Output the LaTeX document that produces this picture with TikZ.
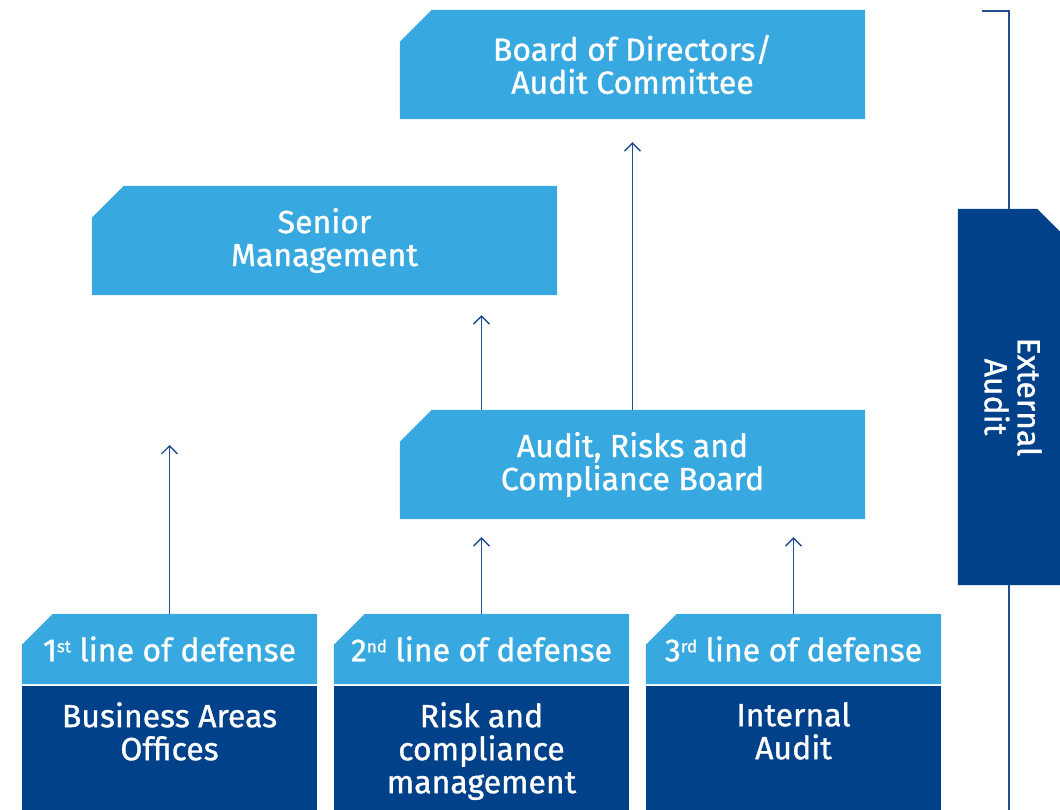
\documentclass[tikz,border=0pt]{standalone}
\usepackage{fontspec}
\setmainfont{Fira Sans}[FakeBold=1]
\usetikzlibrary{backgrounds,arrows.meta}
\definecolor{lightb}{HTML}{38A9E0}
\definecolor{darkb}{HTML}{00418A}
\definecolor{linec}{HTML}{1F4E8F}
\newcommand\chamfbox[3]{%
  \fill[#2] ([yshift=-#3]#1.north west) -- ([xshift=#3]#1.north west) -- (#1.north east) -- (#1.south east) -- (#1.south west) -- cycle;}
\newcommand\sups[1]{\raisebox{9pt}{\fontsize{17}{17}\selectfont #1}}
\tikzset{
  txt/.style={text=white, font=\fontsize{32}{33}\selectfont, align=center, inner sep=0pt},
  bigbox/.style={minimum width=465pt, minimum height=109pt, inner sep=0pt},
  linebox/.style={minimum width=295pt, minimum height=70pt, inner sep=0pt},
  darkbox/.style={minimum width=295pt, minimum height=130pt, inner sep=0pt, fill=darkb, anchor=north},
  arr/.style={draw=linec, line width=1.3pt, -{Straight Barb[length=8pt,width=16pt,line width=1.3pt]}},
}
\begin{document}
\begin{tikzpicture}[x=1pt,y=-1pt]
\useasboundingbox (0,0) rectangle (1060,810);
% boxes with text
\node[bigbox, txt] (board) at (632.5,64.5) {Board of Directors/\\Audit Committee};
\node[bigbox, txt] (senior) at (324.5,240.5) {Senior\\Management};
\node[bigbox, txt] (arc) at (632.5,464.5) {Audit, Risks and\\Compliance Board};
\node[linebox, txt] (l1) at (169.5,649) {1\sups{st} line of defense};
\node[linebox, txt] (l2) at (481.5,649) {2\sups{nd} line of defense};
\node[linebox, txt] (l3) at (793.5,649) {3\sups{rd} line of defense};
\node[darkbox] (d1) at (169.5,686) {};
\node[darkbox] (d2) at (481.5,686) {};
\node[darkbox] (d3) at (793.5,686) {};
\node[txt, anchor=north] (t1) at ([yshift=-16pt]d1.north) {Business Areas\\Offices};
\node[txt, anchor=north] (t2) at ([yshift=-16pt]d2.north) {Risk and\\compliance\\management};
\node[txt, anchor=north] (t3) at ([yshift=-16pt]d3.north) {Internal\\Audit};
\node[minimum width=102pt, minimum height=376pt, inner sep=0pt] (ext) at (1009,397) {};
\node[txt, rotate=-90] (extt) at ([xshift=4pt]ext.center) {External\\Audit};
\coordinate (bracket) at (982,11);
\coordinate (f1) at (169.5,445);
\begin{scope}[on background layer]
  \draw[linec, line width=1.3pt] (bracket) -- (bracket -| ext.center) -- (ext.center |- 0,810);
  \chamfbox{board}{lightb}{32pt}
  \chamfbox{senior}{lightb}{32pt}
  \chamfbox{arc}{lightb}{32pt}
  \chamfbox{l1}{lightb}{31pt}
  \chamfbox{l2}{lightb}{31pt}
  \chamfbox{l3}{lightb}{31pt}
  \fill[darkb] (ext.south west) -- (ext.north west) -- ([xshift=-23pt]ext.north east) -- ([yshift=-23pt]ext.north east) -- (ext.south east) -- cycle;
\end{scope}
% arrows
\draw[arr] (l1.north) -- (f1);
\draw[arr] (l2.north) -- ([yshift=-18pt]arc.south -| l2.north);
\draw[arr] (l3.north) -- ([yshift=-18pt]arc.south -| l3.north);
\draw[arr] (arc.north -| l2.north) -- ([yshift=-20pt]senior.south -| l2.north);
\draw[arr] (arc.north) -- ([yshift=-23pt]board.south);
\end{tikzpicture}
\end{document}
